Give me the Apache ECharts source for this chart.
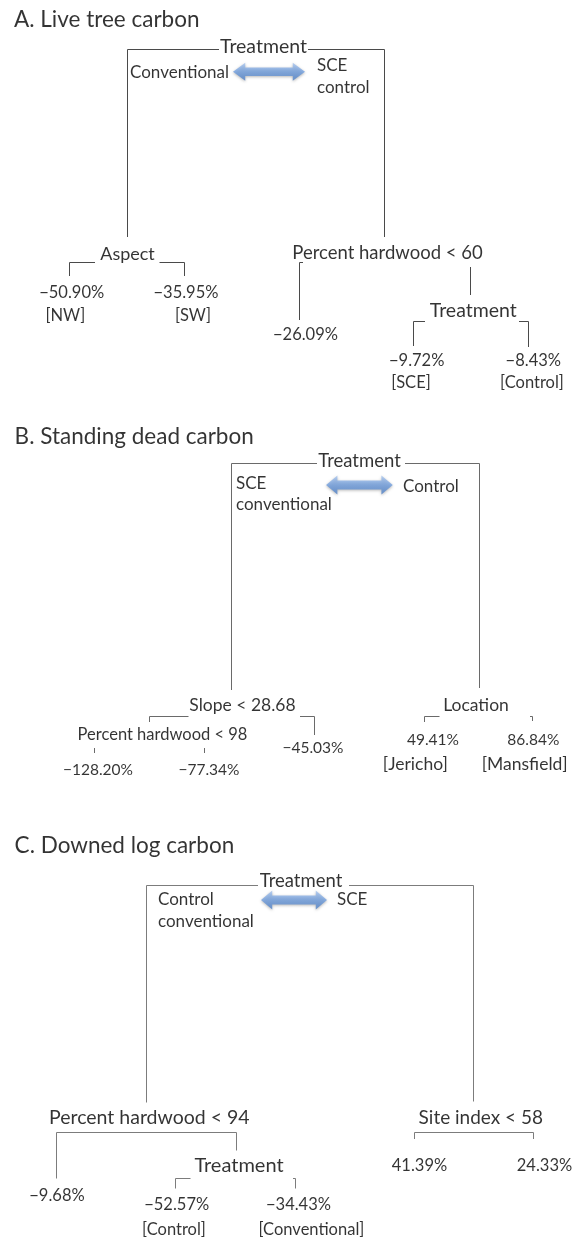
<!DOCTYPE html>
<html><head><meta charset="utf-8">
<script src="https://cdn.jsdelivr.net/npm/echarts@6/dist/echarts.min.js"></script>
<style>html,body{margin:0;padding:0;background:#fff}#c{width:574px;height:1241px}</style>
</head><body><div id="c"></div>
<script>
// ---------------- data ----------------
const panelTitles = ['A. Live tree carbon', 'B. Standing dead carbon', 'C. Downed log carbon'];

const splitsA = ['Treatment', 'Aspect', 'Percent hardwood < 60', 'Treatment'];
const groupsA = ['Conventional', 'SCE', 'control'];
const leafA = [-50.90, -35.95, -26.09, -9.72, -8.43];
const tagsA = ['[NW]', '[SW]', '', '[SCE]', '[Control]'];

const splitsB = ['Treatment', 'Slope < 28.68', 'Percent hardwood < 98', 'Location'];
const groupsB = ['SCE', 'conventional', 'Control'];
const leafB = [-128.20, -77.34, -45.03, 49.41, 86.84];
const tagsB = ['', '', '', '[Jericho]', '[Mansfield]'];

const splitsC = ['Treatment', 'Percent hardwood < 94', 'Treatment', 'Site index < 58'];
const groupsC = ['Control', 'conventional', 'SCE'];
const leafC = [-9.68, -52.57, -34.43, 41.39, 24.33];
const tagsC = ['', '[Control]', '[Conventional]', '', ''];

// ---------------- layout (x, y, target text width for split labels) ----------------
const layoutA = {
  title: [14, 19.5],
  splits: [[263.5, 46.5, 87], [127.5, 254.5, 55], [387.5, 253, 191.6], [473.3, 311, 86.7]],
  groups: [[130, 72.3], [317, 66], [317, 87.7]],
  arrow: [269, 71.7, 72, 18],
  leaves: [[71.7, 293], [186, 293], [305.5, 335], [416.7, 361], [533.3, 361]],
  tags: [[65.3, 316], [193, 316], null, [411, 383], [532, 383]],
  leafScale: 1, tagScale: 1,
  edges: [
    [[127.5, 237], [127.5, 49.5], [219, 49.5]],
    [[308, 49.5], [384.5, 49.5], [384.5, 237]],
    [[69.5, 276], [69.5, 262.5], [95, 262.5]],
    [[159.5, 262.5], [184.5, 262.5], [184.5, 276]],
    [[299.5, 320], [299.5, 262.5], [303, 262.5]],
    [[470.5, 267], [470.5, 295]],
    [[413.5, 346], [413.5, 321.5], [425, 321.5]],
    [[519, 321.5], [528.5, 321.5], [528.5, 347]]
  ],
  color: '#4a4a4a'
};
const layoutB = {
  title: [14.6, 437],
  splits: [[359.5, 461.5, 83], [242.5, 705, 105], [162.5, 735, 168.4], [476, 705, 66.6]],
  groups: [[236, 483.3], [236, 505], [403, 486.7]],
  arrow: [359.4, 485, 66.7, 19],
  leaves: [[98, 770], [209, 770], [313, 748], [433, 740], [533.3, 740]],
  tags: [null, null, null, [415.3, 764], [524.7, 764]],
  leafScale: 0.95, tagScale: 1.05,
  edges: [
    [[231.5, 690], [231.5, 463.5], [317, 463.5]],
    [[405, 463.5], [479.5, 463.5], [479.5, 688]],
    [[149.5, 722], [149.5, 716.5], [188.5, 716.5]],
    [[300, 716.5], [314.5, 716.5], [314.5, 735]],
    [[94.5, 748], [94.5, 753]],
    [[204.5, 748], [204.5, 753]],
    [[424.5, 722], [424.5, 716.5], [439.5, 716.5]],
    [[530, 716.5], [532.5, 716.5], [532.5, 721]]
  ],
  color: '#6a6a6a'
};
const layoutC = {
  title: [14.6, 845.5],
  splits: [[301, 881, 83], [149.3, 1118, 200], [239, 1166, 89.7], [480.8, 1118.3, 125]],
  groups: [[158, 900], [158, 922], [337, 900]],
  arrow: [294, 900, 66, 19],
  leaves: [[57, 1196], [176.7, 1205], [298.5, 1205], [419.5, 1166], [544.5, 1166]],
  tags: [null, [174, 1230], [311.4, 1230], null, null],
  leafScale: 1, tagScale: 1,
  edges: [
    [[146.5, 1102.5], [146.5, 885.5], [258, 885.5]],
    [[349, 885.5], [473.5, 885.5], [473.5, 1101.5]],
    [[56.5, 1178.5], [56.5, 1132.5], [236.5, 1132.5], [236.5, 1150.5]],
    [[175.5, 1188.5], [175.5, 1178.5], [190.5, 1178.5]],
    [[293, 1178.5], [295.5, 1178.5], [295.5, 1188.5]],
    [[414.5, 1139], [414.5, 1132.5], [533.5, 1132.5], [533.5, 1139]]
  ],
  color: '#7c7c7c'
};

// ---------------- helpers ----------------
const FONT = 'Lato';
const mctx = document.createElement('canvas').getContext('2d');
function fit(text, w) {
  mctx.font = '100px ' + FONT;
  const m = mctx.measureText(text).width;
  return Math.round(100 * w / m * 2) / 2;
}
function fmt(v) {
  return (v < 0 ? '\u2212' : '') + Math.abs(v).toFixed(2) + '%';
}
const TITLE_SIZE = fit(panelTitles[0], 184);
const GROUP_SIZE = fit('Conventional', 98);
const LEAF_SIZE = fit('\u221250.90%', 65);

function textItem(pos, text, size, align) {
  return {
    value: [pos[0], pos[1]],
    name: text,
    label: { fontSize: size, align: align || 'center' }
  };
}

const panels = [
  { title: panelTitles[0], splits: splitsA, groups: groupsA, leaf: leafA, tags: tagsA, lay: layoutA },
  { title: panelTitles[1], splits: splitsB, groups: groupsB, leaf: leafB, tags: tagsB, lay: layoutB },
  { title: panelTitles[2], splits: splitsC, groups: groupsC, leaf: leafC, tags: tagsC, lay: layoutC }
];

const series = [];
const textData = [];
const arrowData = [];
panels.forEach(p => {
  const L = p.lay;
  const ls = Math.round(LEAF_SIZE * L.leafScale * 2) / 2;
  const ts = Math.round(LEAF_SIZE * L.tagScale * 2) / 2;
  series.push({
    type: 'lines',
    coordinateSystem: 'cartesian2d',
    polyline: true,
    silent: true,
    lineStyle: { color: L.color, width: 1, opacity: 1 },
    data: L.edges.map(c => ({ coords: c }))
  });
  textData.push(textItem(L.title, p.title, TITLE_SIZE, 'left'));
  p.splits.forEach((s, i) => textData.push(textItem(L.splits[i], s, fit(s, L.splits[i][2]))));
  p.groups.forEach((g, i) => textData.push(textItem(L.groups[i], g, GROUP_SIZE, 'left')));
  p.leaf.forEach((v, i) => textData.push(textItem(L.leaves[i], fmt(v), ls)));
  p.tags.forEach((t, i) => { if (t && L.tags[i]) textData.push(textItem(L.tags[i], t, ts)); });
  arrowData.push({ value: [L.arrow[0], L.arrow[1]], symbolSize: [L.arrow[2], L.arrow[3]] });
});

series.push({
  type: 'scatter',
  silent: true,
  symbol: 'path://M0 20 L17 0 L17 10.5 L83 10.5 L83 0 L100 20 L83 40 L83 29.5 L17 29.5 L17 40 Z',
  symbolKeepAspect: false,
  itemStyle: {
    color: new echarts.graphic.LinearGradient(0, 0, 0, 1, [
      { offset: 0, color: '#a9c6ef' },
      { offset: 0.5, color: '#72a0e0' },
      { offset: 1, color: '#4d7fc6' }
    ]),
    shadowBlur: 3,
    shadowOffsetY: 1,
    shadowColor: 'rgba(0,0,0,0.35)'
  },
  data: arrowData,
  z: 3
});
series.push({
  type: 'scatter',
  silent: true,
  symbolSize: 1,
  itemStyle: { color: 'rgba(0,0,0,0)' },
  label: {
    show: true,
    position: 'inside',
    verticalAlign: 'middle',
    color: '#000',
    fontFamily: FONT,
    formatter: p => p.name
  },
  data: textData,
  z: 4
});

const chart = echarts.init(document.getElementById('c'), null, { renderer: 'canvas' });
chart.setOption({
  animation: false,
  backgroundColor: '#fff',
  grid: { left: 0, right: 0, top: 0, bottom: 0 },
  xAxis: { type: 'value', min: 0, max: 574, show: false },
  yAxis: { type: 'value', min: 0, max: 1241, inverse: true, show: false },
  series: series
});
</script>
</body></html>
